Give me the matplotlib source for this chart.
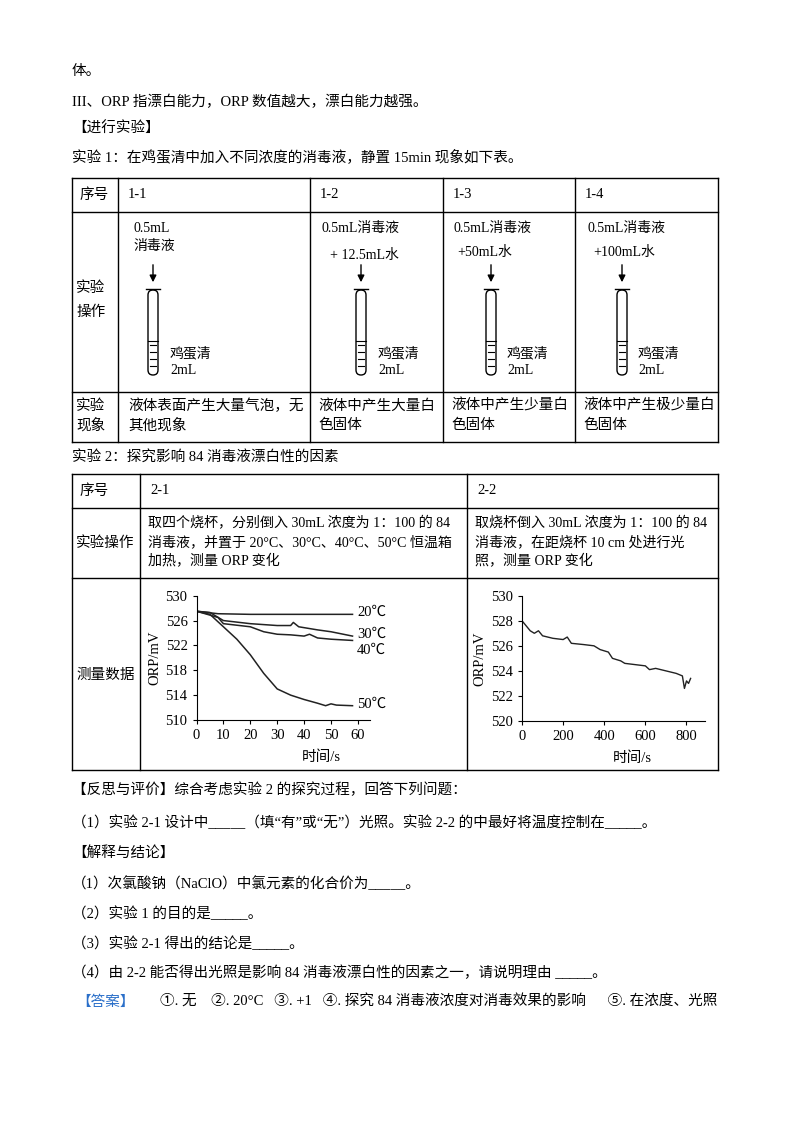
import matplotlib
matplotlib.use("Agg")
import matplotlib.pyplot as plt
from matplotlib.patches import FancyBboxPatch

plt.rcParams['font.family'] = ['Liberation Serif', 'Noto Sans CJK SC', 'DejaVu Sans']

# data
t1 = [0, 5, 10, 15, 20, 25, 30, 35, 40, 45, 48, 50, 52, 58]
c50 = [527.5, 527, 525, 523, 520.5, 517.5, 515, 514, 513.3, 512.7, 512.3, 512.6, 512.4, 512.3]
t20 = [0, 4, 8, 20, 40, 58]
c20 = [527.5, 527.3, 527.1, 527.0, 527.0, 527.0]
t30 = [0, 5, 10, 20, 30, 35, 36, 38, 45, 50, 58]
c30 = [527.5, 527.3, 526, 525.5, 525.2, 525.2, 525.7, 525, 524.5, 524.2, 523.5]
t40 = [0, 8, 10, 20, 25, 30, 35, 40, 42, 45, 50, 58]
c40 = [527.5, 526.5, 525.5, 525, 524.2, 523.8, 523.7, 523.5, 523.8, 523.2, 523, 522.8]
t2 = [0, 20, 40, 60, 80, 100, 150, 200, 220, 240, 300, 350, 380, 420, 440, 480, 500, 550,
      600, 620, 650, 700, 750, 780, 790, 800, 810, 820]
c2 = [528, 527.6, 527.2, 527.0, 527.2, 526.8, 526.6, 526.5, 526.7, 526.2, 526.1, 526, 525.7,
      525.5, 525, 524.8, 524.6, 524.5, 524.4, 524.1, 524.2, 524, 523.8, 523.6, 522.6, 523.2, 523.0, 523.4]

fig = plt.figure(figsize=(8, 11.32), dpi=100)
ax = fig.add_axes([0, 0, 1, 1])
ax.set_xlim(0, 800); ax.set_ylim(1132, 0); ax.axis('off')
FS = 10.5

def T(x, y, s, **k):
    k.setdefault('fontsize', FS)
    ax.text(x, y, s, va='center', ha=k.pop('ha', 'left'), **k)

def L(x0, y0, x1, y1, lw=1.0):
    ax.plot([x0, x1], [y0, y1], color='black', lw=lw)

T(72, 72, "体。")
T(72, 102, "III、ORP 指漂白能力，ORP 数值越大，漂白能力越强。")
T(72, 129, "【进行实验】")
T(72, 157, "实验 1：在鸡蛋清中加入不同浓度的消毒液，静置 15min 现象如下表。")

# table 1
xs = [72, 118, 310, 443, 575, 718]
ys = [178, 212, 392, 442]
for y in ys: L(72, y, 718, y)
for x in xs: L(x, 178, x, 442)
T(80, 195, "序号")
for x, s in zip(xs[1:5], ["1-1", "1-2", "1-3", "1-4"]):
    T(x + 10, 195, s)
T(76, 288, "实验"); T(76, 312, "操作")
T(76, 406, "实验"); T(76, 425, "现象")
T(128, 406, "液体表面产生大量气泡，无"); T(128, 425, "其他现象")
T(318, 406, "液体中产生大量白"); T(318, 425, "色固体")
T(451, 406, "液体中产生少量白"); T(451, 425, "色固体")
T(583, 406, "液体中产生极少量白"); T(583, 425, "色固体")

fs2 = 10
T(133, 228, "0.5mL", fontsize=fs2); T(133, 246, "消毒液", fontsize=fs2)
T(321, 228, "0.5mL消毒液", fontsize=fs2); T(330, 255, "+ 12.5mL水", fontsize=fs2)
T(454, 228, "0.5mL消毒液", fontsize=fs2); T(457, 252, "+50mL水", fontsize=fs2)
T(587, 228, "0.5mL消毒液", fontsize=fs2); T(593, 252, "+100mL水", fontsize=fs2)
tubes = [153, 361, 491, 622]
labx = [170, 378, 507, 638]
for cx, lx in zip(tubes, labx):
    ax.annotate("", xy=(cx, 285), xytext=(cx, 262),
                arrowprops=dict(arrowstyle='-|>', color='black', lw=1, mutation_scale=10))
    ax.add_patch(FancyBboxPatch((cx - 5, 290), 10, 85, boxstyle="round,pad=0,rounding_size=5",
                                fill=False, lw=1))
    L(cx - 7, 289, cx + 7, 289)
    for yy in [345, 352, 359, 366]:
        L(cx - 3, yy, cx + 3, yy, lw=0.8)
    L(cx - 5, 341, cx + 5, 341, lw=0.8)
    T(lx, 354, "鸡蛋清", fontsize=fs2)
    T(lx, 371, "2mL", fontsize=fs2)

T(72, 458, "实验 2：探究影响 84 消毒液漂白性的因素")
xs2 = [72, 140, 467, 718]
ys2 = [474, 508, 578, 770]
for y in ys2: L(72, y, 718, y)
for x in xs2: L(x, 474, x, 770)
T(80, 491, "序号"); T(150, 491, "2-1"); T(477, 491, "2-2")
T(76, 543, "实验操作"); T(76, 675, "测量数据")
fs3 = 10.1
T(148, 523, "取四个烧杯，分别倒入 30mL 浓度为 1：100 的 84", fontsize=fs3)
T(148, 542, "消毒液，并置于 20°C、30°C、40°C、50°C 恒温箱", fontsize=fs3)
T(148, 561, "加热，测量 ORP 变化", fontsize=fs3)
T(475, 523, "取烧杯倒入 30mL 浓度为 1：100 的 84", fontsize=fs3)
T(475, 542, "消毒液，在距烧杯 10 cm 处进行光", fontsize=fs3)
T(475, 561, "照，测量 ORP 变化", fontsize=fs3)

H = 1132.0
def axes_px(x0, x1, y0, y1):
    return fig.add_axes([x0 / 800, 1 - y1 / H, (x1 - x0) / 800, (y1 - y0) / H])

a1 = axes_px(196.5, 370, 595.7, 720)
a1.set_xlim(0, 64.5); a1.set_ylim(510, 530)
for t, c in [(t20, c20), (t30, c30), (t40, c40), (t1, c50)]:
    a1.plot(t, c, color='#222222', lw=1.1)
a1.set_xticks(range(0, 61, 10)); a1.set_yticks(range(510, 531, 4))
a2 = axes_px(522, 705, 595.7, 721)
a2.set_xlim(0, 890); a2.set_ylim(520, 530)
a2.plot(t2, c2, color='#222222', lw=1.0)
a2.set_xticks(range(0, 801, 200)); a2.set_yticks(range(520, 531, 2))
for a in [a1, a2]:
    for s in ['top', 'right']:
        a.spines[s].set_visible(False)
    a.tick_params(labelsize=10.5, length=3, direction='out')
    a.set_ylabel("ORP/mV", fontsize=10.5, labelpad=3)
    a.patch.set_alpha(0)
a1.set_xlabel("时间/s", fontsize=10.5, labelpad=6, x=0.72)
a2.set_xlabel("时间/s", fontsize=10.5, labelpad=6, x=0.6)
T(357, 612, "20℃", fontsize=10.5)
T(357, 634, "30℃", fontsize=10.5)
T(357, 650, "40℃", fontsize=10.5)
T(357, 704, "50℃", fontsize=10.5)

T(72, 790, "【反思与评价】综合考虑实验 2 的探究过程，回答下列问题：")
T(72, 823, "（1）实验 2-1 设计中_____（填“有”或“无”）光照。实验 2-2 的中最好将温度控制在_____。")
T(72, 853, "【解释与结论】")
T(72, 884, "（1）次氯酸钠（NaClO）中氯元素的化合价为_____。")
T(72, 914, "（2）实验 1 的目的是_____。")
T(72, 944, "（3）实验 2-1 得出的结论是_____。")
T(72, 973, "（4）由 2-2 能否得出光照是影响 84 消毒液漂白性的因素之一，请说明理由 _____。")
T(76, 1002, "【答案】", color='#2a6fc9')
T(160, 1002, "①. 无    ②. 20°C   ③. +1   ④. 探究 84 消毒液浓度对消毒效果的影响      ⑤. 在浓度、光照")

fig.savefig("out.png", dpi=100)
